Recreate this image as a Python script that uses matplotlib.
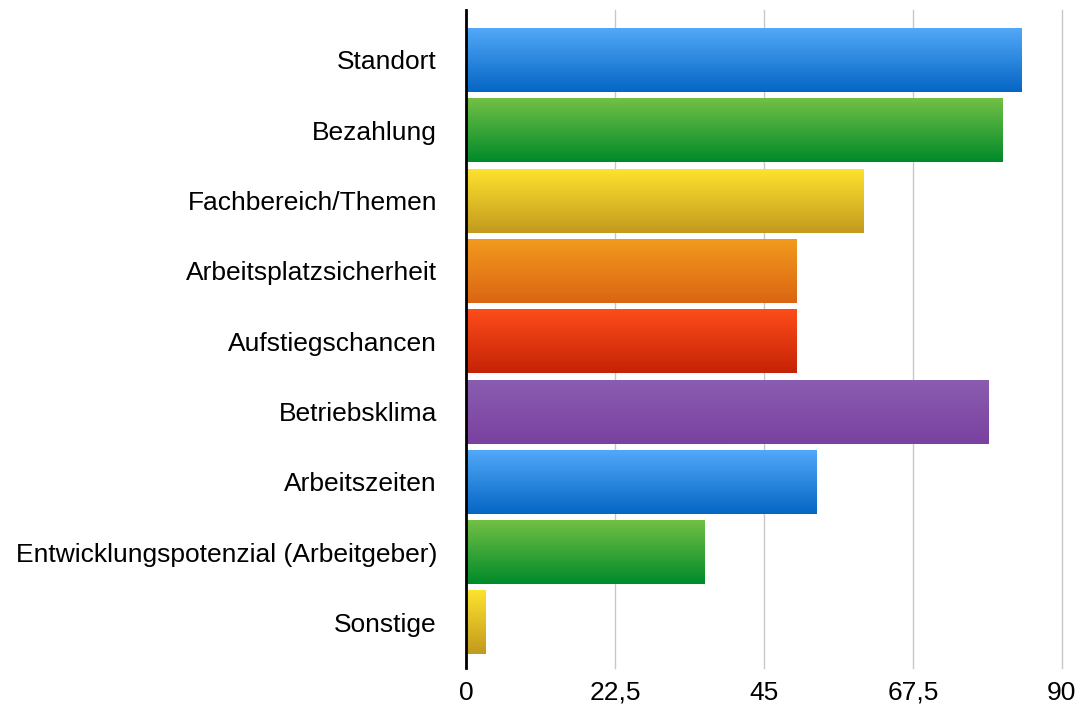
import numpy as np
import matplotlib
matplotlib.use("Agg")
import matplotlib.pyplot as plt
from matplotlib.colors import to_rgb

# Daten
kategorien = ["Standort", "Bezahlung", "Fachbereich/Themen", "Arbeitsplatzsicherheit",
              "Aufstiegschancen", "Betriebsklima", "Arbeitszeiten",
              "Entwicklungspotenzial (Arbeitgeber)", "Sonstige"]
werte = [84, 81, 60, 50, 50, 79, 53, 36, 3]
ticks = [0, 22.5, 45, 67.5, 90]
tick_labels = ["0", "22,5", "45", "67,5", "90"]

# Farbverläufe (oben, unten)
verlaeufe = [("#52a8f8", "#0566c4"), ("#72c045", "#008a2a"), ("#fde22e", "#c39a1e"),
             ("#f29a1e", "#db6512"), ("#fd4c1a", "#c52306"), ("#8a5db0", "#7a41a0")]

plt.rcParams['font.family'] = ['Liberation Sans', 'DejaVu Sans']

fig = plt.figure(figsize=(10.79, 7.2), dpi=100)
ax = fig.add_axes([0.432, 0.072, 0.552, 0.914])

h = 0.91
for i, v in enumerate(werte):
    oben, unten = verlaeufe[i % len(verlaeufe)]
    c1 = np.array(to_rgb(oben))
    c2 = np.array(to_rgb(unten))
    t = np.linspace(0, 1, 64)[:, None]
    grad = (c1 * (1 - t) + c2 * t)[:, None, :]
    ax.imshow(grad, extent=(0, v, i + h / 2, i - h / 2), origin="upper",
              aspect="auto", zorder=3, interpolation="bilinear")

ax.set_xlim(0, 90)
ax.set_ylim(8.65, -0.71)
ax.set_yticks(range(len(kategorien)))
ax.set_yticklabels(kategorien, fontsize=19)
ax.set_xticks(ticks)
ax.set_xticklabels(tick_labels, fontsize=19)
ax.tick_params(axis="y", length=0, pad=21)
ax.tick_params(axis="x", length=0, pad=9)

ax.grid(axis="x", color="#c8c8c8", linewidth=1, zorder=0)
for gl in ax.get_xgridlines():
    gl.set_clip_on(False)
ax.set_axisbelow(True)
for s in ["top", "right", "bottom"]:
    ax.spines[s].set_visible(False)
ax.spines["left"].set_linewidth(2)
ax.spines["left"].set_color("black")
ax.spines["left"].set_zorder(5)

fig.savefig("out.png", dpi=100)
